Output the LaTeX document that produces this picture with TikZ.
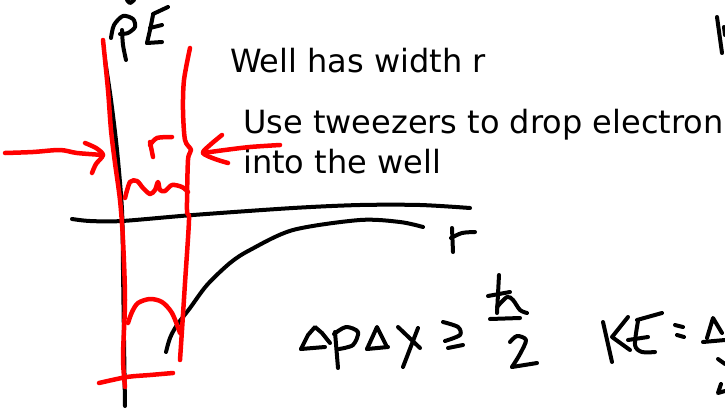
\documentclass[tikz,border=0pt]{standalone}
\usepackage{fontspec}
\setmainfont{DejaVu Sans}
\definecolor{penred}{RGB}{255,0,0}
\begin{document}
\begin{tikzpicture}[x=1pt,y=-1pt,
  ink/.style={line width=4pt,line cap=round,line join=round},
  blk/.style={ink,draw=black},
  rdk/.style={ink,draw=penred,line width=4.5pt},
  txt/.style={inner sep=0pt,anchor=base west,font=\fontsize{32}{40}\selectfont}]
\useasboundingbox (0,0) rectangle (725,412);
% text
\node[txt] (well) at (230,73) {Well has width r};
\node[txt] (tw1) at (243,133) {Use tweezers to drop electron};
\node[txt] (tw2) at (243,173) {into the well};
% axes and potential
\draw[blk] plot[smooth] coordinates {(105,60) (111,100) (117,150) (122,210) (123,270) (124,340) (125,406)};
\draw[blk] plot[smooth] coordinates {(72,219) (90,221) (122,221) (193,215) (293,208) (360,205) (420,205) (470,208)};
\draw[blk] plot[smooth] coordinates {(166,352) (170,338) (177,325) (190,308) (207,285) (230,263) (250,250) (293,230) (360,220) (400,222) (423,227)};
% axis label r
\draw[blk] (452,228) -- (453,252);
\draw[blk] plot[smooth] coordinates {(451,238) (462,233) (475,232)};
% PE
\draw[blk] plot[smooth] coordinates {(111,38) (114,25) (123,16) (133,19) (135,27) (128,33) (120,34)};
\draw[blk] plot[smooth] coordinates {(122,30) (123,45) (126,60)};
\draw[blk] plot[smooth] coordinates {(127,0) (130,3) (134,0)};
\draw[blk] (153,14) -- (168,7);
\draw[blk] plot[smooth] coordinates {(153,15) (150,30) (147,43)};
\draw[blk] (150,28) -- (162,25);
\draw[blk] (147,43) -- (162,42);
% red well walls
\draw[rdk] plot[smooth] coordinates {(103,40) (108,90) (111,130) (115,163) (120,200) (123,240) (125,300) (123,357) (125,387)};
\draw[rdk] plot[smooth] coordinates {(190,48) (184,80) (183,110) (185,140) (191,150) (188,160) (187,210) (189,220) (185,283) (182,330) (180,360)};
% arrows
\draw[rdk] plot[smooth] coordinates {(5,153) (33,152) (60,150) (77,153) (103,155)};
\draw[rdk] plot[smooth] coordinates {(85,143) (96,148) (103,155) (96,164) (92,173)};
\draw[rdk] plot[smooth] coordinates {(280,145) (250,147) (225,150) (203,153)};
\draw[rdk] plot[smooth] coordinates {(222,135) (210,145) (203,153) (215,159) (228,163)};
% red r
\draw[rdk] (150,142) -- (153,157);
\draw[rdk] plot[smooth] coordinates {(150,145) (157,138) (172,137)};
% wave at top
\draw[rdk] plot[smooth] coordinates {(125,198) (130,182) (137,181) (143,188) (150,194) (155,190) (158,182) (160,190) (165,191) (172,185) (182,187) (188,192)};
% ground state
\draw[rdk] plot[smooth] coordinates {(128,323) (132,312) (138,303) (150,299) (162,302) (172,313) (180,333)};
\draw[rdk] plot[smooth] coordinates {(99,383) (127,377) (150,375) (173,373)};
% equation
\draw[blk] (301,349) -- (308,335) -- (315,327) -- (322,333) -- (330,343);
\draw[blk] (301,349) -- (325,347);
\draw[blk] (335,332) -- (338,368);
\draw[blk] plot[smooth] coordinates {(334,334) (346,327) (358,332) (353,345) (339,349)};
\draw[blk] (367,349) -- (377,327) -- (387,347);
\draw[blk] (367,349) -- (388,347);
\draw[blk] (398,327) -- (420,348);
\draw[blk] (418,328) -- (403,367);
\draw[blk] plot[smooth] coordinates {(443,322) (458,327) (460,335) (445,341)};
\draw[blk] (448,348) -- (463,345);
\draw[blk] (499,275) -- (497,313);
\draw[blk] plot[smooth] coordinates {(497,307) (507,297) (513,300) (520,310) (527,313)};
\draw[blk] (488,296) -- (510,292);
\draw[blk] (490,319) -- (520,318);
\draw[blk] plot[smooth] coordinates {(510,342) (517,336) (526,340) (520,354) (512,367)};
\draw[blk] (512,367) -- (537,363);
% KE
\draw[blk] (603,322) -- (612,362);
\draw[blk] (628,317) -- (612,337) -- (630,350);
\draw[blk] (637,320) -- (662,313);
\draw[blk] plot[smooth] coordinates {(638,321) (635,345) (642,352) (655,352)};
\draw[blk] (628,340) -- (648,337);
\draw[blk] (675,325) -- (683,327);
\draw[blk] (677,335) -- (684,337);
\draw[blk] (707,338) -- (713,318) -- (722,333);
\draw[blk] (703,342) -- (725,340);
\draw[blk] (718,359) -- (725,364);
\draw[blk] (721,384) -- (718,393) -- (725,391);
% top-right fragment
\draw[blk] (717,17) -- (722,53);
\draw[blk] (724,27) -- (725,35);
\end{tikzpicture}
\end{document}
